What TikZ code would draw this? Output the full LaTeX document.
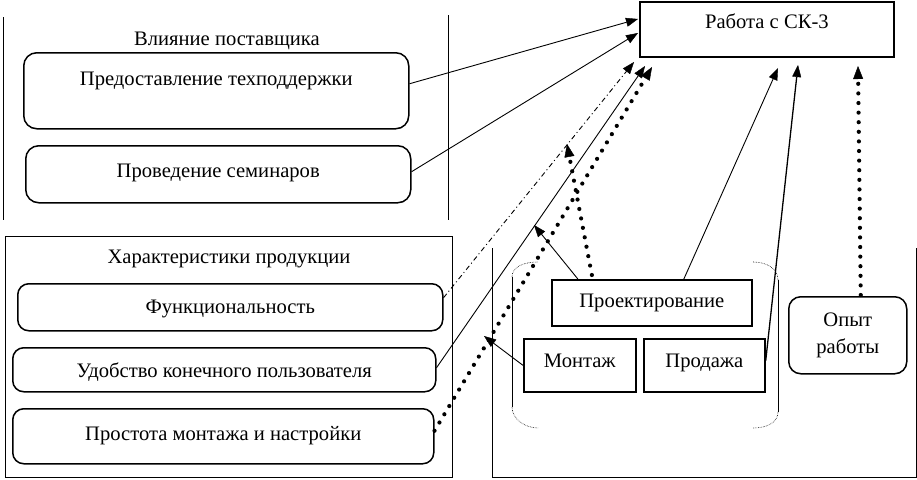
\documentclass[tikz,border=0pt]{standalone}
\usepackage{fontspec}
\setmainfont{Liberation Serif}
\usetikzlibrary{arrows.meta,calc}
\begin{document}
\begin{tikzpicture}[x=1pt,y=-1pt,
  every node/.style={font=\fontsize{20.6}{24}\selectfont, inner sep=0pt},
  sq/.style={draw, line width=1.7pt},
  rnd/.style={draw, line width=1.5pt, rounded corners=13pt},
  tip/.style={-{Triangle[length=12pt,width=9pt,line width=0.4pt]}},
  arr/.style={tip, line width=0.9pt},
  dotarr/.style={line width=4.2pt, line cap=round, dash pattern=on 0pt off 9.6pt, -{Triangle[length=13pt,width=10pt,line width=0.4pt]}},
  dasharr/.style={tip, line width=0.9pt, dash pattern=on 5pt off 3pt on 1pt off 3pt},
  panel/.style={line width=0.9pt},
  frameside/.style={line width=0.7pt},
  framecorner/.style={line width=0.6pt, densely dotted}]
\useasboundingbox (0,0) rectangle (917,479);
% panels
\draw[panel] (3,17) -- (3,220);
\draw[panel] (448,15) -- (448,220);
\draw[panel] (5,236) rectangle (452,477);
\draw[panel] (492,248) -- (492,477) -- (916,477) -- (916,248);
% bracket frame
\draw[frameside] (512,277) -- (512,407);
\draw[framecorner] (512,277) .. controls (512,266) and (525,262) .. (538,262);
\draw[framecorner] (512,407) .. controls (512,419) and (525,428) .. (538,428);
\draw[frameside] (778,280) -- (778,412);
\draw[framecorner] (778,280) .. controls (778,268) and (766,262) .. (753,262);
\draw[framecorner] (778,412) .. controls (778,423) and (766,428) .. (753,428);
% titles
\node[anchor=base] (t1) at (227,45) {Влияние поставщика};
\node[anchor=base] (t2) at (229,263) {Характеристики продукции};
% nodes
\node[sq, anchor=north west, minimum width=254pt, text height=27pt, text depth=28pt] (rab) at (639,1) {Работа с СК-3};
\node[rnd, anchor=north west, minimum width=385pt, text height=33pt, text depth=43pt] (b1) at (23,52) {Предоставление техподдержки};
\node[rnd, anchor=north west, minimum width=385pt, text height=32pt, text depth=25pt] (b2) at (25,145) {Проведение семинаров};
\node[rnd, anchor=north west, minimum width=425pt, text height=30pt, text depth=17pt, rounded corners=11pt] (f1) at (17,283) {Функциональность};
\node[rnd, anchor=north west, minimum width=423pt, text height=30pt, text depth=14pt, rounded corners=11pt] (f2) at (12,347) {Удобство конечного пользователя};
\node[rnd, anchor=north west, minimum width=421pt, text height=32pt, text depth=23pt, rounded corners=11pt] (f3) at (12,408) {Простота монтажа и настройки};
\node[sq, anchor=north west, minimum width=200pt, text height=28pt, text depth=18pt] (p) at (551,279) {Проектирование};
\node[sq, anchor=north west, minimum width=112pt, text height=29pt, text depth=24pt] (m) at (523,338) {Монтаж};
\node[sq, anchor=north west, minimum width=121pt, text height=29pt, text depth=24pt] (s) at (643,338) {Продажа};
\node[rnd, anchor=north west, minimum width=118pt, minimum height=77pt, align=center, rounded corners=12pt, font=\fontsize{20.6}{27}\selectfont] (o) at (788,296) {Опыт\\работы};
% arrow ends
\coordinate (e1) at (638,19);
\coordinate (e2) at (638,33);
\coordinate (e3) at (634,62);
\coordinate (e4) at (645,66);
\coordinate (e5) at (652,67);
\coordinate (e6) at (534,225);
\coordinate (e7) at (484,336);
\coordinate (e8) at (567,144);
\coordinate (e9) at (778,68);
\coordinate (e10) at (798,65);
\coordinate (e11) at (858,66);
% connectors
\draw[arr] ([yshift=7pt]b1.east) -- (e1);
\draw[arr] ([yshift=2.5pt]b2.east) -- (e2);
\draw[dasharr] ([yshift=9.5pt]f1.east) -- (e3);
\draw[arr] ([yshift=2pt]f2.east) -- (e4);
\draw[dotarr] ([yshift=5.5pt]f3.east) -- (e5);
\draw[arr] ([xshift=-74pt]p.north) -- (e6);
\draw[arr] (m.west) -- (e7);
\draw[dotarr] ([xshift=-60pt,yshift=4pt]p.north) -- (e8);
\draw[arr] ([xshift=32pt]p.north) -- (e9);
\draw[arr, line width=1.3pt] ([yshift=4.5pt]s.east) -- (e10);
\draw[dotarr] ([xshift=13pt,yshift=1pt]o.north) -- (e11);
\end{tikzpicture}
\end{document}
